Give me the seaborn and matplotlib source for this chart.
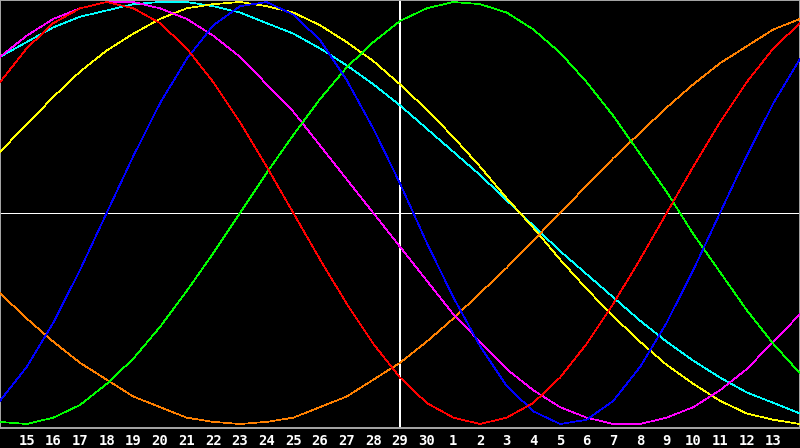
import numpy as np
import pandas as pd
import matplotlib
matplotlib.use("Agg")
import matplotlib.pyplot as plt
import seaborn as sns

# day index 0..30 (0 = the 14th, 15 = the 29th = today, 30 = the 14th of next month)
day_index = list(range(31))
tick_days = [15, 16, 17, 18, 19, 20, 21, 22, 23, 24, 25, 26, 27, 28, 29, 30,
             1, 2, 3, 4, 5, 6, 7, 8, 9, 10, 11, 12, 13]

cycle23 = [-89, -73, -52, -27, 0, 27, 52, 73, 89, 98, 100, 94, 82, 63, 40, 14,
           -14, -40, -63, -82, -94, -100, -98, -89, -73, -52, -27, 0, 27, 52, 73]
cycle28 = [62, 78, 90, 97, 100, 97, 90, 78, 62, 43, 22, 0, -22, -43, -62, -78,
           -90, -97, -100, -97, -90, -78, -62, -43, -22, 0, 22, 43, 62, 78, 90]
cycle33 = [-99, -100, -97, -91, -81, -69, -54, -37, -19, 0, 19, 37, 54, 69, 81, 91,
           97, 100, 99, 95, 87, 76, 62, 46, 28, 10, -10, -28, -46, -62, -76]
cycle38 = [74, 84, 92, 97, 100, 100, 97, 92, 84, 74, 61, 48, 32, 16, 0, -16,
           -32, -48, -61, -74, -84, -92, -97, -100, -100, -97, -92, -84, -74, -61, -48]
cycle43 = [29, 42, 55, 67, 77, 85, 92, 97, 99, 100, 98, 95, 89, 81, 72, 61,
           49, 36, 22, 7, -7, -22, -36, -49, -61, -72, -81, -89, -95, -98, -100]
cycle48 = [-38, -50, -61, -71, -79, -87, -92, -97, -99, -100, -99, -97, -92, -87, -79, -71,
           -61, -50, -38, -26, -13, 0, 13, 26, 38, 50, 61, 71, 79, 87, 92]
cycle53 = [74, 81, 88, 93, 96, 99, 100, 100, 98, 95, 90, 85, 78, 70, 61, 51,
           40, 29, 18, 6, -6, -18, -29, -40, -51, -61, -70, -78, -85, -90, -95]

series = {
    "53": (cycle53, "#00ffff"),
    "43": (cycle43, "#ffff00"),
    "48": (cycle48, "#ff8000"),
    "38": (cycle38, "#ff00ff"),
    "33": (cycle33, "#00ff00"),
    "23": (cycle23, "#0000ff"),
    "28": (cycle28, "#ff0000"),
}

sns.set_style("dark")
plt.rcParams["font.family"] = ["DejaVu Sans Mono", "DejaVu Sans"]

W, H = 800, 448
fig = plt.figure(figsize=(W / 100, H / 100), dpi=100, facecolor="black")
ax = fig.add_axes([0, (H - 428) / H, 1, 428 / H])
ax.set_facecolor("black")

lw = 0.5

for name, (vals, col) in series.items():
    df = pd.DataFrame({"day": day_index, "value": vals})
    sns.lineplot(data=df, x="day", y="value", ax=ax, color=col,
                 linewidth=lw, antialiased=False, zorder=3)

ax.axhline(0, color="white", linewidth=lw, antialiased=False, zorder=2)
ax.axvline(15, color="white", linewidth=1.4, antialiased=False, zorder=2)

ax.set_xlim(0, 30)
ax.set_ylim(-101.9, 100.95)
ax.set_xlabel("")
ax.set_ylabel("")
ax.grid(False)

ax.set_xticks(range(1, 30))
ax.set_xticklabels([str(d) for d in tick_days])
ax.set_yticks([])
ax.tick_params(axis="x", direction="in", length=5, width=1.0, color="white",
               labelcolor="white", labelsize=10, pad=4)
for lbl in ax.get_xticklabels():
    lbl.set_fontweight("bold")

for side in ["left", "top", "right", "bottom"]:
    ax.spines[side].set_visible(True)
    ax.spines[side].set_color("#a8a8a8")
    ax.spines[side].set_linewidth(1.4)

fig.savefig("out.png", dpi=100, facecolor="black")
